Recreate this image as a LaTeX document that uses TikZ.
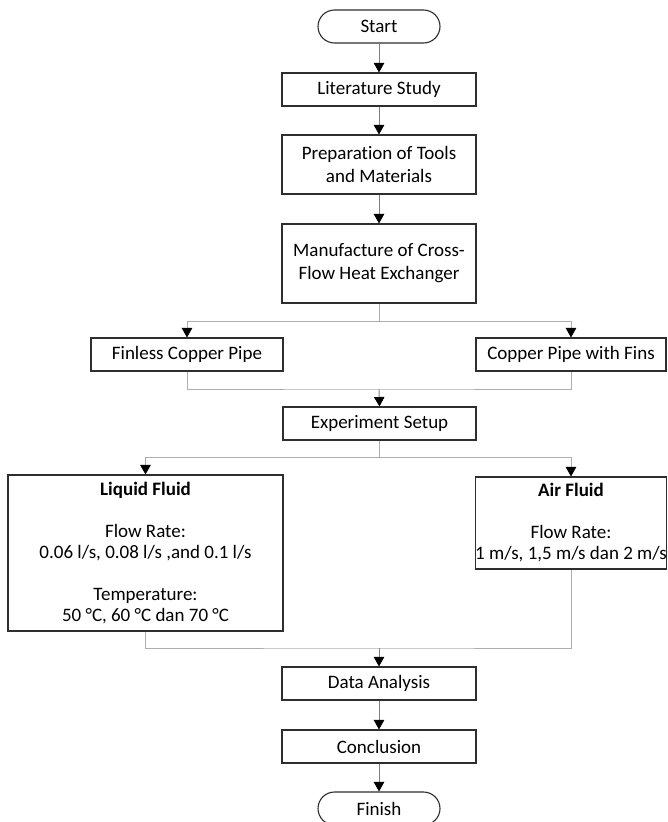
\documentclass[tikz,border=0pt]{standalone}
\usepackage{fontspec}
\setmainfont{Carlito}[Ligatures=NoCommon]
\usetikzlibrary{arrows.meta}
\definecolor{boxline}{HTML}{2E2E2E}
\definecolor{vline}{HTML}{7F7F7F}
\definecolor{eline}{HTML}{ADADAD}
\tikzset{
  box/.style={draw=boxline, line width=1.1pt, fill=white, inner sep=0pt, align=center,
    font=\fontsize{19}{23}\selectfont},
  term/.style={box, rounded corners=16.5pt},
  fluid/.style={box, font=\fontsize{19}{21}\selectfont},
  arr/.style={draw=vline, line width=0.9pt, -{Triangle[length=9.5pt,width=10.5pt,black]}},
  elb/.style={draw=eline, line width=0.9pt},
  elbarr/.style={elb, -{Triangle[length=9.5pt,width=10.5pt,black]}},
}
\begin{document}
\begin{tikzpicture}[x=1pt,y=-1pt]
\useasboundingbox (0,0) rectangle (667,822);
\node[term, minimum width=122pt, minimum height=33pt] (start) at (379,26.5) {Start};
\node[box, minimum width=194pt, minimum height=33pt] (lit) at (379,89.5) {Literature Study};
\node[box, minimum width=194pt, minimum height=59pt] (prep) at (379,164.5) {Preparation of Tools\\and Materials};
\node[box, minimum width=194pt, minimum height=79pt] (manu) at (379,263.5) {Manufacture of Cross-\\Flow Heat Exchanger};
\node[box, minimum width=192pt, minimum height=33pt] (finless) at (187,354.5) {Finless Copper Pipe};
\node[box, minimum width=190pt, minimum height=33pt] (fins) at (571,354.5) {Copper Pipe with Fins};
\node[box, minimum width=193pt, minimum height=33pt] (exp) at (379.5,423.5) {Experiment Setup};
\node[fluid, minimum width=275pt, minimum height=156pt] (liq) at (145.5,553)
  {\textbf{Liquid Fluid}\\[21pt]Flow Rate:\\0.06 l/s, 0.08 l/s ,and 0.1 l/s\\[21pt]Temperature:\\50 °C, 60 °C dan 70 °C};
\node[fluid, minimum width=190pt, minimum height=92pt] (air) at (571,523)
  {\textbf{Air Fluid}\\[21pt]Flow Rate:\\1 m/s, 1,5 m/s dan 2 m/s};
\node[box, minimum width=194pt, minimum height=33pt] (data) at (379,683.5) {Data Analysis};
\node[box, minimum width=194pt, minimum height=33pt] (conc) at (379,746.5) {Conclusion};
\node[term, minimum width=122pt, minimum height=33pt] (finish) at (379,808.5) {Finish};

\coordinate (b1) at (379,321);
\coordinate (m1) at (379,389);
\coordinate (b2) at (379.5,457);
\coordinate (m2) at (379,648);

\draw[arr] (start) -- (lit);
\draw[arr] (lit) -- (prep);
\draw[arr] (prep) -- (manu);
\draw[elb] (manu.south) -- (b1);
\draw[elbarr] (b1) -| (finless.north);
\draw[elbarr] (b1) -| (fins.north);
\draw[elb] (finless.south) |- (m1) -| (fins.south);
\draw[arr] (m1) -- (exp.north);
\draw[elb] (exp.south) -- (b2);
\draw[elbarr] (b2) -| (liq.north);
\draw[elbarr] (b2) -| (air.north);
\draw[elb] (liq.south) |- (m2) -| (air.south);
\draw[arr] (m2) -- (data.north);
\draw[arr] (data) -- (conc);
\draw[arr] (conc) -- (finish);
\end{tikzpicture}
\end{document}
